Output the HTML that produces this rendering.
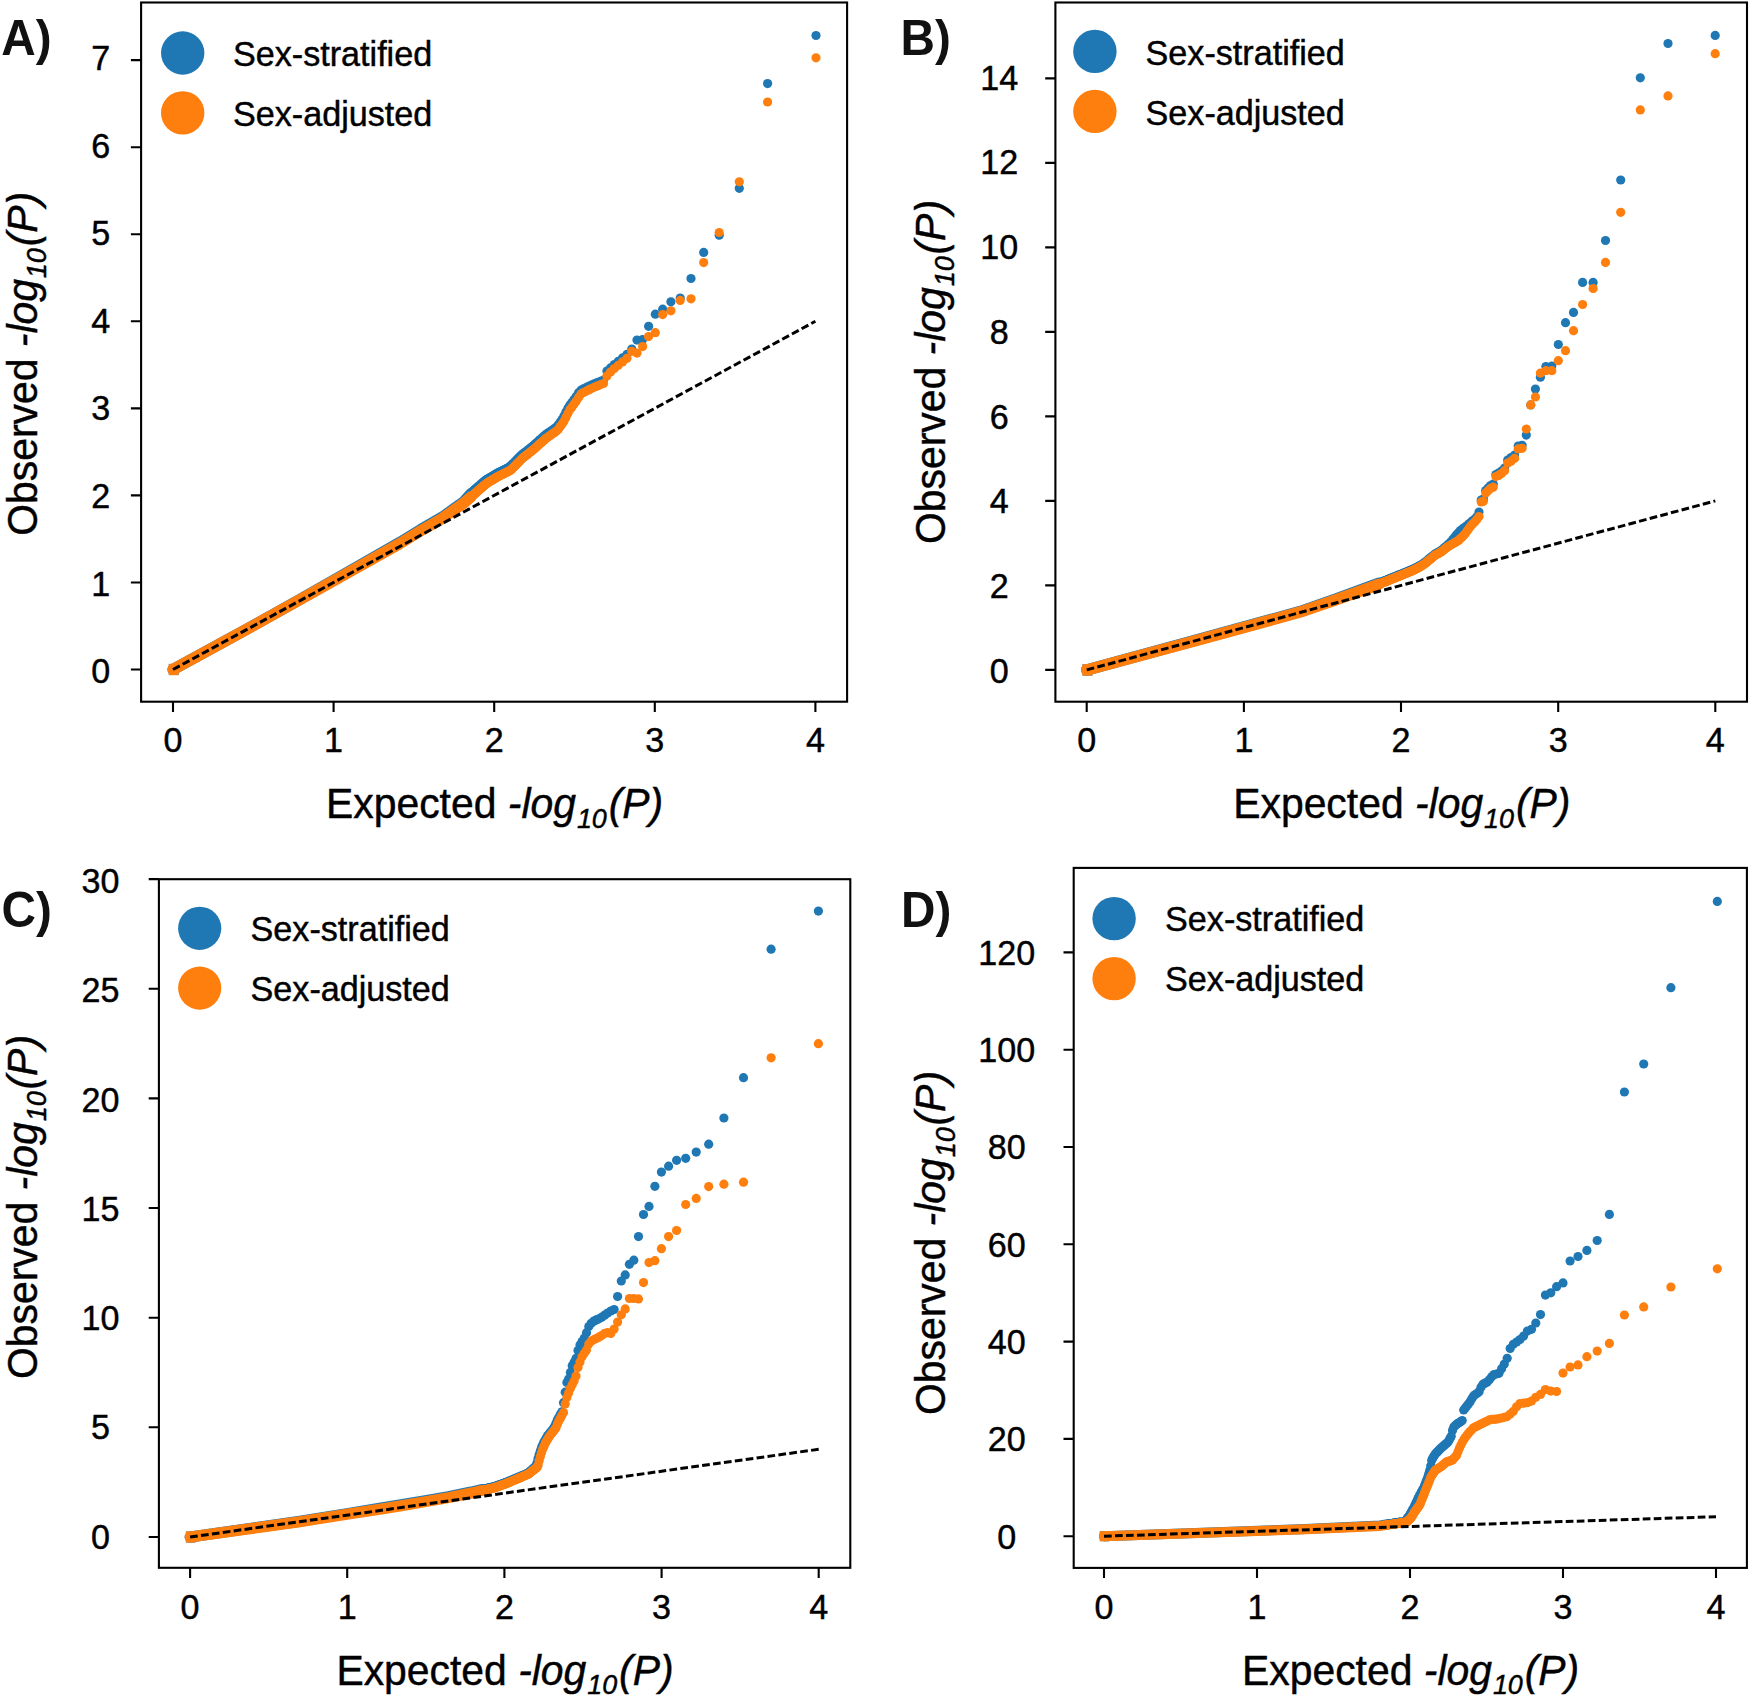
<!DOCTYPE html>
<html lang="en"><head><meta charset="utf-8"><title>QQ plots</title>
<style>html,body{margin:0;padding:0;background:#fff}svg{display:block}text{font-family:"Liberation Sans",sans-serif;fill:#000;stroke:#000;stroke-width:0.45px}.pl{stroke-width:0;fill:#111}.tk{font-size:34.8px}.lg{font-size:34.7px}.ax{font-size:43.0px}.pl{font-size:50px;font-weight:bold}.it{font-style:italic}.sub{font-size:28.3px;font-style:italic}</style></head><body>
<svg width="1750" height="1698" viewBox="0 0 1750 1698">
<rect width="1750" height="1698" fill="#fff"/>
<g>
<path d="M471.1 493.5 L463.3 502.2 L459.7 504.6 L442.1 517.2 L420.9 529.4 L399.7 542.4 L350 570.9 L300 599.3 L250 627.3 L173 669.5" fill="none" stroke="#1f77b4" stroke-width="11.2" stroke-linejoin="round" stroke-linecap="round"/>
<rect x="168.8" y="663.9" width="9.8" height="11.2" fill="#1f77b4"/>
<g fill="#1f77b4"><circle cx="816" cy="35.5" r="4.6"/><circle cx="767.6" cy="83.6" r="4.6"/><circle cx="739.3" cy="188.3" r="4.6"/><circle cx="719.2" cy="235.2" r="4.6"/><circle cx="703.7" cy="252.4" r="4.6"/><circle cx="691" cy="278.5" r="4.6"/><circle cx="680.2" cy="298.1" r="4.6"/><circle cx="670.9" cy="301.8" r="4.6"/><circle cx="662.7" cy="309.2" r="4.6"/><circle cx="655.3" cy="314.2" r="4.6"/><circle cx="648.6" cy="326.3" r="4.6"/><circle cx="642.6" cy="339.5" r="4.6"/><circle cx="637" cy="340.1" r="4.6"/><circle cx="631.8" cy="349" r="4.6"/><circle cx="627" cy="354.3" r="4.6"/><circle cx="622.5" cy="357.9" r="4.6"/><circle cx="618.3" cy="361.3" r="4.6"/><circle cx="614.3" cy="364.6" r="4.6"/><circle cx="610.5" cy="367.9" r="4.6"/><circle cx="606.9" cy="371.1" r="4.6"/><circle cx="603.5" cy="380.1" r="4.6"/><circle cx="600.3" cy="381.4" r="4.6"/><circle cx="597.2" cy="382.6" r="4.6"/><circle cx="594.2" cy="383.8" r="4.6"/><circle cx="591.4" cy="385" r="4.6"/><circle cx="588.6" cy="386.3" r="4.6"/><circle cx="586" cy="387.7" r="4.6"/><circle cx="583.4" cy="388.9" r="4.6"/><circle cx="581" cy="390.2" r="4.6"/><circle cx="578.6" cy="392.8" r="4.6"/><circle cx="576.3" cy="396.3" r="4.6"/><circle cx="574.1" cy="399.4" r="4.6"/><circle cx="572" cy="402.3" r="4.6"/><circle cx="569.9" cy="405.1" r="4.6"/><circle cx="567.9" cy="408.2" r="4.6"/><circle cx="565.9" cy="412.1" r="4.6"/><circle cx="564" cy="415.9" r="4.6"/><circle cx="562.1" cy="419.4" r="4.6"/><circle cx="560.3" cy="421.9" r="4.6"/><circle cx="558.5" cy="424.4" r="4.6"/><circle cx="556.8" cy="426.8" r="4.6"/><circle cx="555.1" cy="428.1" r="4.6"/><circle cx="553.5" cy="429.3" r="4.6"/><circle cx="551.9" cy="430.4" r="4.6"/><circle cx="550.3" cy="431.5" r="4.6"/><circle cx="548.8" cy="432.6" r="4.6"/><circle cx="547.3" cy="433.6" r="4.6"/><circle cx="545.8" cy="434.7" r="4.6"/><circle cx="544.4" cy="435.8" r="4.6"/><circle cx="543" cy="437" r="4.6"/><circle cx="541.6" cy="438.3" r="4.6"/><circle cx="540.2" cy="439.5" r="4.6"/><circle cx="538.9" cy="440.7" r="4.6"/><circle cx="537.6" cy="441.9" r="4.6"/><circle cx="536.3" cy="443" r="4.6"/><circle cx="535.1" cy="444.1" r="4.6"/><circle cx="533.8" cy="445.3" r="4.6"/><circle cx="532.6" cy="446.3" r="4.6"/><circle cx="531.4" cy="447.3" r="4.6"/><circle cx="530.3" cy="448.2" r="4.6"/><circle cx="529.1" cy="449.1" r="4.6"/><circle cx="528" cy="450" r="4.6"/><circle cx="526.8" cy="450.9" r="4.6"/><circle cx="525.7" cy="451.8" r="4.6"/><circle cx="524.7" cy="452.6" r="4.6"/><circle cx="523.6" cy="453.5" r="4.6"/><circle cx="522.5" cy="454.3" r="4.6"/><circle cx="521.5" cy="455.1" r="4.6"/><circle cx="520.5" cy="456.1" r="4.6"/><circle cx="519.5" cy="457.1" r="4.6"/><circle cx="518.5" cy="458.1" r="4.6"/><circle cx="517.5" cy="459.1" r="4.6"/><circle cx="516.6" cy="460.1" r="4.6"/><circle cx="515.6" cy="461" r="4.6"/><circle cx="514.7" cy="462" r="4.6"/><circle cx="513.8" cy="462.9" r="4.6"/><circle cx="512.8" cy="463.8" r="4.6"/><circle cx="511.9" cy="464.7" r="4.6"/><circle cx="511.1" cy="465.6" r="4.6"/><circle cx="510.2" cy="466.5" r="4.6"/><circle cx="509.3" cy="467.3" r="4.6"/><circle cx="508.5" cy="467.7" r="4.6"/><circle cx="507.6" cy="468.1" r="4.6"/><circle cx="506.8" cy="468.6" r="4.6"/><circle cx="505.9" cy="469" r="4.6"/><circle cx="505.1" cy="469.4" r="4.6"/><circle cx="504.3" cy="469.8" r="4.6"/><circle cx="503.5" cy="470.2" r="4.6"/><circle cx="502.7" cy="470.6" r="4.6"/><circle cx="502" cy="471" r="4.6"/><circle cx="501.2" cy="471.4" r="4.6"/><circle cx="500.4" cy="471.7" r="4.6"/><circle cx="499.7" cy="472.1" r="4.6"/><circle cx="498.9" cy="472.5" r="4.6"/><circle cx="498.2" cy="472.9" r="4.6"/><circle cx="497.4" cy="473.2" r="4.6"/><circle cx="496.7" cy="473.7" r="4.6"/><circle cx="496" cy="474.1" r="4.6"/><circle cx="495.3" cy="474.5" r="4.6"/><circle cx="494.6" cy="474.9" r="4.6"/><circle cx="493.9" cy="475.4" r="4.6"/><circle cx="493.2" cy="475.8" r="4.6"/><circle cx="492.5" cy="476.2" r="4.6"/><circle cx="491.9" cy="476.6" r="4.6"/><circle cx="491.2" cy="477" r="4.6"/><circle cx="490.5" cy="477.4" r="4.6"/><circle cx="489.9" cy="477.7" r="4.6"/><circle cx="489.2" cy="478.1" r="4.6"/><circle cx="488.6" cy="478.5" r="4.6"/><circle cx="487.9" cy="478.9" r="4.6"/><circle cx="487.3" cy="479.3" r="4.6"/><circle cx="486.7" cy="479.6" r="4.6"/><circle cx="486.1" cy="480" r="4.6"/><circle cx="485.5" cy="480.5" r="4.6"/><circle cx="484.8" cy="481" r="4.6"/><circle cx="484.2" cy="481.5" r="4.6"/><circle cx="483.6" cy="482" r="4.6"/><circle cx="483" cy="482.6" r="4.6"/><circle cx="482.5" cy="483.1" r="4.6"/><circle cx="481.9" cy="483.6" r="4.6"/><circle cx="481.3" cy="484.1" r="4.6"/><circle cx="480.7" cy="484.6" r="4.6"/><circle cx="480.2" cy="485" r="4.6"/><circle cx="479.6" cy="485.5" r="4.6"/><circle cx="479" cy="486" r="4.6"/><circle cx="478.5" cy="486.5" r="4.6"/><circle cx="477.9" cy="487" r="4.6"/><circle cx="477.4" cy="487.4" r="4.6"/><circle cx="476.8" cy="487.9" r="4.6"/><circle cx="476.3" cy="488.4" r="4.6"/><circle cx="475.8" cy="488.8" r="4.6"/><circle cx="475.2" cy="489.3" r="4.6"/><circle cx="474.7" cy="489.7" r="4.6"/><circle cx="474.2" cy="490.2" r="4.6"/><circle cx="473.7" cy="490.7" r="4.6"/><circle cx="473.1" cy="491.2" r="4.6"/><circle cx="472.6" cy="491.8" r="4.6"/><circle cx="472.1" cy="492.4" r="4.6"/><circle cx="471.6" cy="492.9" r="4.6"/><circle cx="471.1" cy="493.5" r="4.6"/></g>
<path d="M471.1 496.8 L463.6 503.3 L460 505.7 L442.4 518.3 L421.2 530.5 L400 543.5 L350 571.6 L300 599.7 L250 627.5 L173 669.5" fill="none" stroke="#ff7f0e" stroke-width="11.2" stroke-linejoin="round" stroke-linecap="round"/>
<rect x="168.8" y="663.9" width="9.8" height="11.2" fill="#ff7f0e"/>
<g fill="#ff7f0e"><circle cx="816" cy="57.8" r="4.6"/><circle cx="767.6" cy="102" r="4.6"/><circle cx="739.3" cy="181.8" r="4.6"/><circle cx="719.2" cy="232.5" r="4.6"/><circle cx="703.7" cy="262.6" r="4.6"/><circle cx="691" cy="298.8" r="4.6"/><circle cx="680.2" cy="300.4" r="4.6"/><circle cx="670.9" cy="310.8" r="4.6"/><circle cx="662.7" cy="314.6" r="4.6"/><circle cx="655.3" cy="332.7" r="4.6"/><circle cx="648.6" cy="336.6" r="4.6"/><circle cx="642.6" cy="346.6" r="4.6"/><circle cx="637" cy="353.1" r="4.6"/><circle cx="631.8" cy="351.3" r="4.6"/><circle cx="627" cy="358.3" r="4.6"/><circle cx="622.5" cy="361.9" r="4.6"/><circle cx="618.3" cy="365.3" r="4.6"/><circle cx="614.3" cy="368.6" r="4.6"/><circle cx="610.5" cy="372" r="4.6"/><circle cx="606.9" cy="376.1" r="4.6"/><circle cx="603.5" cy="383.5" r="4.6"/><circle cx="600.3" cy="384.8" r="4.6"/><circle cx="597.2" cy="386.1" r="4.6"/><circle cx="594.2" cy="387.3" r="4.6"/><circle cx="591.4" cy="388.6" r="4.6"/><circle cx="588.6" cy="389.9" r="4.6"/><circle cx="586" cy="391.3" r="4.6"/><circle cx="583.4" cy="392.5" r="4.6"/><circle cx="581" cy="394.1" r="4.6"/><circle cx="578.6" cy="397.6" r="4.6"/><circle cx="576.3" cy="401.1" r="4.6"/><circle cx="574.1" cy="404" r="4.6"/><circle cx="572" cy="406.9" r="4.6"/><circle cx="569.9" cy="409.7" r="4.6"/><circle cx="567.9" cy="413.6" r="4.6"/><circle cx="565.9" cy="417.5" r="4.6"/><circle cx="564" cy="421.3" r="4.6"/><circle cx="562.1" cy="424.1" r="4.6"/><circle cx="560.3" cy="426.6" r="4.6"/><circle cx="558.5" cy="429.1" r="4.6"/><circle cx="556.8" cy="430.8" r="4.6"/><circle cx="555.1" cy="432" r="4.6"/><circle cx="553.5" cy="433.1" r="4.6"/><circle cx="551.9" cy="434.3" r="4.6"/><circle cx="550.3" cy="435.4" r="4.6"/><circle cx="548.8" cy="436.4" r="4.6"/><circle cx="547.3" cy="437.5" r="4.6"/><circle cx="545.8" cy="438.6" r="4.6"/><circle cx="544.4" cy="439.9" r="4.6"/><circle cx="543" cy="441.1" r="4.6"/><circle cx="541.6" cy="442.4" r="4.6"/><circle cx="540.2" cy="443.6" r="4.6"/><circle cx="538.9" cy="444.8" r="4.6"/><circle cx="537.6" cy="445.9" r="4.6"/><circle cx="536.3" cy="447.1" r="4.6"/><circle cx="535.1" cy="448.2" r="4.6"/><circle cx="533.8" cy="449.3" r="4.6"/><circle cx="532.6" cy="450.3" r="4.6"/><circle cx="531.4" cy="451.2" r="4.6"/><circle cx="530.3" cy="452.1" r="4.6"/><circle cx="529.1" cy="453.1" r="4.6"/><circle cx="528" cy="454" r="4.6"/><circle cx="526.8" cy="454.9" r="4.6"/><circle cx="525.7" cy="455.7" r="4.6"/><circle cx="524.7" cy="456.6" r="4.6"/><circle cx="523.6" cy="457.4" r="4.6"/><circle cx="522.5" cy="458.3" r="4.6"/><circle cx="521.5" cy="459.3" r="4.6"/><circle cx="520.5" cy="460.3" r="4.6"/><circle cx="519.5" cy="461.3" r="4.6"/><circle cx="518.5" cy="462.3" r="4.6"/><circle cx="517.5" cy="463.3" r="4.6"/><circle cx="516.6" cy="464.3" r="4.6"/><circle cx="515.6" cy="465.2" r="4.6"/><circle cx="514.7" cy="466.2" r="4.6"/><circle cx="513.8" cy="467.1" r="4.6"/><circle cx="512.8" cy="468" r="4.6"/><circle cx="511.9" cy="468.9" r="4.6"/><circle cx="511.1" cy="469.8" r="4.6"/><circle cx="510.2" cy="470.5" r="4.6"/><circle cx="509.3" cy="470.9" r="4.6"/><circle cx="508.5" cy="471.3" r="4.6"/><circle cx="507.6" cy="471.7" r="4.6"/><circle cx="506.8" cy="472.2" r="4.6"/><circle cx="505.9" cy="472.6" r="4.6"/><circle cx="505.1" cy="473" r="4.6"/><circle cx="504.3" cy="473.4" r="4.6"/><circle cx="503.5" cy="473.8" r="4.6"/><circle cx="502.7" cy="474.2" r="4.6"/><circle cx="502" cy="474.6" r="4.6"/><circle cx="501.2" cy="475" r="4.6"/><circle cx="500.4" cy="475.3" r="4.6"/><circle cx="499.7" cy="475.7" r="4.6"/><circle cx="498.9" cy="476.1" r="4.6"/><circle cx="498.2" cy="476.5" r="4.6"/><circle cx="497.4" cy="477" r="4.6"/><circle cx="496.7" cy="477.4" r="4.6"/><circle cx="496" cy="477.8" r="4.6"/><circle cx="495.3" cy="478.2" r="4.6"/><circle cx="494.6" cy="478.7" r="4.6"/><circle cx="493.9" cy="479.1" r="4.6"/><circle cx="493.2" cy="479.5" r="4.6"/><circle cx="492.5" cy="479.9" r="4.6"/><circle cx="491.9" cy="480.3" r="4.6"/><circle cx="491.2" cy="480.7" r="4.6"/><circle cx="490.5" cy="481.1" r="4.6"/><circle cx="489.9" cy="481.5" r="4.6"/><circle cx="489.2" cy="481.8" r="4.6"/><circle cx="488.6" cy="482.2" r="4.6"/><circle cx="487.9" cy="482.6" r="4.6"/><circle cx="487.3" cy="483" r="4.6"/><circle cx="486.7" cy="483.5" r="4.6"/><circle cx="486.1" cy="484" r="4.6"/><circle cx="485.5" cy="484.5" r="4.6"/><circle cx="484.8" cy="485" r="4.6"/><circle cx="484.2" cy="485.6" r="4.6"/><circle cx="483.6" cy="486.1" r="4.6"/><circle cx="483" cy="486.6" r="4.6"/><circle cx="482.5" cy="487.1" r="4.6"/><circle cx="481.9" cy="487.6" r="4.6"/><circle cx="481.3" cy="488.1" r="4.6"/><circle cx="480.7" cy="488.6" r="4.6"/><circle cx="480.2" cy="489.1" r="4.6"/><circle cx="479.6" cy="489.6" r="4.6"/><circle cx="479" cy="490" r="4.6"/><circle cx="478.5" cy="490.5" r="4.6"/><circle cx="477.9" cy="491" r="4.6"/><circle cx="477.4" cy="491.5" r="4.6"/><circle cx="476.8" cy="491.9" r="4.6"/><circle cx="476.3" cy="492.4" r="4.6"/><circle cx="475.8" cy="492.9" r="4.6"/><circle cx="475.2" cy="493.3" r="4.6"/><circle cx="474.7" cy="493.8" r="4.6"/><circle cx="474.2" cy="494.2" r="4.6"/><circle cx="473.7" cy="494.7" r="4.6"/><circle cx="473.1" cy="495.1" r="4.6"/><circle cx="472.6" cy="495.5" r="4.6"/><circle cx="472.1" cy="496" r="4.6"/><circle cx="471.6" cy="496.4" r="4.6"/><circle cx="471.1" cy="496.8" r="4.6"/></g>
<line x1="173" y1="669.5" x2="815.4" y2="321.3" stroke="#000" stroke-width="3.0" stroke-dasharray="7.7 3.3"/>
<rect x="141.1" y="2.5" width="706" height="699.2" fill="none" stroke="#000" stroke-width="2.1"/>
<path d="M173 701.7 v10.2 M333.6 701.7 v10.2 M494.2 701.7 v10.2 M654.8 701.7 v10.2 M815.4 701.7 v10.2 M141.1 669.5 h-10.2 M141.1 582.5 h-10.2 M141.1 495.4 h-10.2 M141.1 408.4 h-10.2 M141.1 321.3 h-10.2 M141.1 234.2 h-10.2 M141.1 147.2 h-10.2 M141.1 60.1 h-10.2" stroke="#000" stroke-width="2.1" fill="none"/>
<text class="tk" transform="translate(173 751.6) scale(0.98 1)" text-anchor="middle">0</text>
<text class="tk" transform="translate(333.6 751.6) scale(0.98 1)" text-anchor="middle">1</text>
<text class="tk" transform="translate(494.2 751.6) scale(0.98 1)" text-anchor="middle">2</text>
<text class="tk" transform="translate(654.8 751.6) scale(0.98 1)" text-anchor="middle">3</text>
<text class="tk" transform="translate(815.4 751.6) scale(0.98 1)" text-anchor="middle">4</text>
<text class="tk" transform="translate(100.8 683) scale(0.98 1)" text-anchor="middle">0</text>
<text class="tk" transform="translate(100.8 595.5) scale(0.98 1)" text-anchor="middle">1</text>
<text class="tk" transform="translate(100.8 508) scale(0.98 1)" text-anchor="middle">2</text>
<text class="tk" transform="translate(100.8 420.4) scale(0.98 1)" text-anchor="middle">3</text>
<text class="tk" transform="translate(100.8 332.9) scale(0.98 1)" text-anchor="middle">4</text>
<text class="tk" transform="translate(100.8 245.4) scale(0.98 1)" text-anchor="middle">5</text>
<text class="tk" transform="translate(100.8 157.9) scale(0.98 1)" text-anchor="middle">6</text>
<text class="tk" transform="translate(100.8 70.3) scale(0.98 1)" text-anchor="middle">7</text>
<circle cx="182.7" cy="53" r="21.7" fill="#1f77b4"/>
<circle cx="182.7" cy="112.9" r="21.7" fill="#ff7f0e"/>
<text class="lg" transform="translate(233 66.3) scale(0.984 1)">Sex-stratified</text>
<text class="lg" transform="translate(233 125.5) scale(0.984 1)">Sex-adjusted</text>
<text class="pl" transform="translate(1.2 54.9) scale(0.955 1)">A)</text>
<text class="ax" transform="translate(326 818.4) scale(0.951 1)">Expected <tspan class="it">-log</tspan><tspan class="sub" dy="9.2" dx="1.0">10</tspan><tspan class="it" dy="-9.2" dx="2.0">(P)</tspan></text>
<text class="ax" transform="translate(36.7 535.8) rotate(-90) scale(0.951 1)">Observed <tspan class="it">-log</tspan><tspan class="sub" dy="9.2" dx="1.0">10</tspan><tspan class="it" dy="-9.2" dx="2.0">(P)</tspan></text>
</g>
<g>
<path d="M1378.5 583.2 L1368.3 587.1 L1334.3 599.6 L1300 611.6 L1200 639 L1086.7 669.9" fill="none" stroke="#1f77b4" stroke-width="11.4" stroke-linejoin="round" stroke-linecap="round"/>
<rect x="1082.5" y="664.2" width="9.9" height="11.4" fill="#1f77b4"/>
<g fill="#1f77b4"><circle cx="1715.2" cy="35.4" r="4.6"/><circle cx="1668" cy="43.5" r="4.6"/><circle cx="1640.3" cy="77.8" r="4.6"/><circle cx="1620.7" cy="180" r="4.6"/><circle cx="1605.5" cy="240.5" r="4.6"/><circle cx="1593.1" cy="282.4" r="4.6"/><circle cx="1582.6" cy="282.4" r="4.6"/><circle cx="1573.5" cy="312.4" r="4.6"/><circle cx="1565.5" cy="322.7" r="4.6"/><circle cx="1558.3" cy="344.5" r="4.6"/><circle cx="1551.8" cy="366" r="4.6"/><circle cx="1545.9" cy="366.6" r="4.6"/><circle cx="1540.4" cy="377.2" r="4.6"/><circle cx="1535.4" cy="389" r="4.6"/><circle cx="1530.7" cy="404.9" r="4.6"/><circle cx="1526.3" cy="435.1" r="4.6"/><circle cx="1522.1" cy="445.3" r="4.6"/><circle cx="1518.2" cy="446" r="4.6"/><circle cx="1514.6" cy="455" r="4.6"/><circle cx="1511.1" cy="457.5" r="4.6"/><circle cx="1507.7" cy="460" r="4.6"/><circle cx="1504.6" cy="468" r="4.6"/><circle cx="1501.5" cy="471" r="4.6"/><circle cx="1498.6" cy="473" r="4.6"/><circle cx="1495.9" cy="474.5" r="4.6"/><circle cx="1493.2" cy="484" r="4.6"/><circle cx="1490.6" cy="485.5" r="4.6"/><circle cx="1488.1" cy="488" r="4.6"/><circle cx="1485.7" cy="490.5" r="4.6"/><circle cx="1483.4" cy="499" r="4.6"/><circle cx="1481.2" cy="500" r="4.6"/><circle cx="1479" cy="512" r="4.6"/><circle cx="1476.9" cy="516.7" r="4.6"/><circle cx="1474.9" cy="518.9" r="4.6"/><circle cx="1472.9" cy="520.6" r="4.6"/><circle cx="1471" cy="522.2" r="4.6"/><circle cx="1469.1" cy="523.8" r="4.6"/><circle cx="1467.3" cy="525.4" r="4.6"/><circle cx="1465.6" cy="526.8" r="4.6"/><circle cx="1463.8" cy="528" r="4.6"/><circle cx="1462.2" cy="529.2" r="4.6"/><circle cx="1460.5" cy="530.5" r="4.6"/><circle cx="1458.9" cy="532.3" r="4.6"/><circle cx="1457.3" cy="534" r="4.6"/><circle cx="1455.8" cy="535.7" r="4.6"/><circle cx="1454.3" cy="537.7" r="4.6"/><circle cx="1452.8" cy="539.6" r="4.6"/><circle cx="1451.4" cy="541.5" r="4.6"/><circle cx="1450" cy="542.9" r="4.6"/><circle cx="1448.6" cy="544.1" r="4.6"/><circle cx="1447.3" cy="545.3" r="4.6"/><circle cx="1446" cy="546.5" r="4.6"/><circle cx="1444.7" cy="547.6" r="4.6"/><circle cx="1443.4" cy="548.7" r="4.6"/><circle cx="1442.1" cy="549.8" r="4.6"/><circle cx="1440.9" cy="550.9" r="4.6"/><circle cx="1439.7" cy="551.5" r="4.6"/><circle cx="1438.5" cy="552.2" r="4.6"/><circle cx="1437.4" cy="552.8" r="4.6"/><circle cx="1436.2" cy="553.4" r="4.6"/><circle cx="1435.1" cy="554.1" r="4.6"/><circle cx="1434" cy="555" r="4.6"/><circle cx="1432.9" cy="555.9" r="4.6"/><circle cx="1431.8" cy="556.7" r="4.6"/><circle cx="1430.8" cy="557.6" r="4.6"/><circle cx="1429.7" cy="558.5" r="4.6"/><circle cx="1428.7" cy="559.3" r="4.6"/><circle cx="1427.7" cy="560.2" r="4.6"/><circle cx="1426.7" cy="561" r="4.6"/><circle cx="1425.7" cy="561.8" r="4.6"/><circle cx="1424.7" cy="562.5" r="4.6"/><circle cx="1423.8" cy="563.3" r="4.6"/><circle cx="1422.8" cy="564" r="4.6"/><circle cx="1421.9" cy="564.5" r="4.6"/><circle cx="1421" cy="565" r="4.6"/><circle cx="1420.1" cy="565.5" r="4.6"/><circle cx="1419.2" cy="566.1" r="4.6"/><circle cx="1418.3" cy="566.6" r="4.6"/><circle cx="1417.5" cy="567.1" r="4.6"/><circle cx="1416.6" cy="567.5" r="4.6"/><circle cx="1415.8" cy="567.9" r="4.6"/><circle cx="1414.9" cy="568.3" r="4.6"/><circle cx="1414.1" cy="568.7" r="4.6"/><circle cx="1413.3" cy="569.1" r="4.6"/><circle cx="1412.5" cy="569.5" r="4.6"/><circle cx="1411.7" cy="569.9" r="4.6"/><circle cx="1410.9" cy="570.2" r="4.6"/><circle cx="1410.1" cy="570.6" r="4.6"/><circle cx="1409.3" cy="570.9" r="4.6"/><circle cx="1408.6" cy="571.2" r="4.6"/><circle cx="1407.8" cy="571.5" r="4.6"/><circle cx="1407.1" cy="571.8" r="4.6"/><circle cx="1406.3" cy="572.1" r="4.6"/><circle cx="1405.6" cy="572.4" r="4.6"/><circle cx="1404.9" cy="572.7" r="4.6"/><circle cx="1404.2" cy="573" r="4.6"/><circle cx="1403.5" cy="573.2" r="4.6"/><circle cx="1402.8" cy="573.5" r="4.6"/><circle cx="1402.1" cy="573.8" r="4.6"/><circle cx="1401.4" cy="574.1" r="4.6"/><circle cx="1400.7" cy="574.4" r="4.6"/><circle cx="1400.1" cy="574.6" r="4.6"/><circle cx="1399.4" cy="574.9" r="4.6"/><circle cx="1398.7" cy="575.2" r="4.6"/><circle cx="1398.1" cy="575.4" r="4.6"/><circle cx="1397.4" cy="575.7" r="4.6"/><circle cx="1396.8" cy="576" r="4.6"/><circle cx="1396.2" cy="576.2" r="4.6"/><circle cx="1395.5" cy="576.5" r="4.6"/><circle cx="1394.9" cy="576.7" r="4.6"/><circle cx="1394.3" cy="577" r="4.6"/><circle cx="1393.7" cy="577.2" r="4.6"/><circle cx="1393.1" cy="577.5" r="4.6"/><circle cx="1392.5" cy="577.7" r="4.6"/><circle cx="1391.9" cy="578" r="4.6"/><circle cx="1391.3" cy="578.2" r="4.6"/><circle cx="1390.7" cy="578.4" r="4.6"/><circle cx="1390.1" cy="578.7" r="4.6"/><circle cx="1389.5" cy="578.9" r="4.6"/><circle cx="1389" cy="579.1" r="4.6"/><circle cx="1388.4" cy="579.4" r="4.6"/><circle cx="1387.9" cy="579.6" r="4.6"/><circle cx="1387.3" cy="579.8" r="4.6"/><circle cx="1386.7" cy="580.1" r="4.6"/><circle cx="1386.2" cy="580.3" r="4.6"/><circle cx="1385.7" cy="580.5" r="4.6"/><circle cx="1385.1" cy="580.7" r="4.6"/><circle cx="1384.6" cy="580.9" r="4.6"/><circle cx="1384" cy="581.1" r="4.6"/><circle cx="1383.5" cy="581.3" r="4.6"/><circle cx="1383" cy="581.5" r="4.6"/><circle cx="1382.5" cy="581.7" r="4.6"/><circle cx="1382" cy="581.9" r="4.6"/><circle cx="1381.5" cy="582.1" r="4.6"/><circle cx="1381" cy="582.3" r="4.6"/><circle cx="1380.4" cy="582.5" r="4.6"/><circle cx="1379.9" cy="582.7" r="4.6"/><circle cx="1379.5" cy="582.9" r="4.6"/><circle cx="1379" cy="583.1" r="4.6"/><circle cx="1378.5" cy="583.2" r="4.6"/></g>
<path d="M1378.5 584.4 L1368.6 588.1 L1334.3 600.3 L1300 612.1 L1200 639.4 L1086.7 669.9" fill="none" stroke="#ff7f0e" stroke-width="11.4" stroke-linejoin="round" stroke-linecap="round"/>
<rect x="1082.5" y="664.2" width="9.9" height="11.4" fill="#ff7f0e"/>
<g fill="#ff7f0e"><circle cx="1715.2" cy="53.7" r="4.6"/><circle cx="1668" cy="95.9" r="4.6"/><circle cx="1640.3" cy="109.9" r="4.6"/><circle cx="1620.7" cy="212.3" r="4.6"/><circle cx="1605.5" cy="262.4" r="4.6"/><circle cx="1593.1" cy="288.5" r="4.6"/><circle cx="1582.6" cy="304.5" r="4.6"/><circle cx="1573.5" cy="330.7" r="4.6"/><circle cx="1565.5" cy="350.7" r="4.6"/><circle cx="1558.3" cy="360.7" r="4.6"/><circle cx="1551.8" cy="370.7" r="4.6"/><circle cx="1545.9" cy="370.7" r="4.6"/><circle cx="1540.4" cy="373.1" r="4.6"/><circle cx="1535.4" cy="397" r="4.6"/><circle cx="1530.7" cy="404.9" r="4.6"/><circle cx="1526.3" cy="429" r="4.6"/><circle cx="1522.1" cy="448.3" r="4.6"/><circle cx="1518.2" cy="448.9" r="4.6"/><circle cx="1514.6" cy="458.3" r="4.6"/><circle cx="1511.1" cy="461.2" r="4.6"/><circle cx="1507.7" cy="463" r="4.6"/><circle cx="1504.6" cy="470.7" r="4.6"/><circle cx="1501.5" cy="473.6" r="4.6"/><circle cx="1498.6" cy="475.4" r="4.6"/><circle cx="1495.9" cy="476.6" r="4.6"/><circle cx="1493.2" cy="487.2" r="4.6"/><circle cx="1490.6" cy="488.3" r="4.6"/><circle cx="1488.1" cy="490.7" r="4.6"/><circle cx="1485.7" cy="493" r="4.6"/><circle cx="1483.4" cy="501.3" r="4.6"/><circle cx="1481.2" cy="502" r="4.6"/><circle cx="1479" cy="516.6" r="4.6"/><circle cx="1476.9" cy="519.6" r="4.6"/><circle cx="1474.9" cy="521.8" r="4.6"/><circle cx="1472.9" cy="523.8" r="4.6"/><circle cx="1471" cy="525.7" r="4.6"/><circle cx="1469.1" cy="528.2" r="4.6"/><circle cx="1467.3" cy="530.7" r="4.6"/><circle cx="1465.6" cy="533.2" r="4.6"/><circle cx="1463.8" cy="535.3" r="4.6"/><circle cx="1462.2" cy="536.9" r="4.6"/><circle cx="1460.5" cy="538.6" r="4.6"/><circle cx="1458.9" cy="540.2" r="4.6"/><circle cx="1457.3" cy="541.1" r="4.6"/><circle cx="1455.8" cy="542" r="4.6"/><circle cx="1454.3" cy="542.9" r="4.6"/><circle cx="1452.8" cy="543.8" r="4.6"/><circle cx="1451.4" cy="544.6" r="4.6"/><circle cx="1450" cy="545.5" r="4.6"/><circle cx="1448.6" cy="546.3" r="4.6"/><circle cx="1447.3" cy="547.1" r="4.6"/><circle cx="1446" cy="548.1" r="4.6"/><circle cx="1444.7" cy="549.1" r="4.6"/><circle cx="1443.4" cy="550.2" r="4.6"/><circle cx="1442.1" cy="551.2" r="4.6"/><circle cx="1440.9" cy="552.1" r="4.6"/><circle cx="1439.7" cy="552.7" r="4.6"/><circle cx="1438.5" cy="553.4" r="4.6"/><circle cx="1437.4" cy="554" r="4.6"/><circle cx="1436.2" cy="554.6" r="4.6"/><circle cx="1435.1" cy="555.3" r="4.6"/><circle cx="1434" cy="556.2" r="4.6"/><circle cx="1432.9" cy="557.1" r="4.6"/><circle cx="1431.8" cy="558" r="4.6"/><circle cx="1430.8" cy="558.9" r="4.6"/><circle cx="1429.7" cy="559.7" r="4.6"/><circle cx="1428.7" cy="560.6" r="4.6"/><circle cx="1427.7" cy="561.4" r="4.6"/><circle cx="1426.7" cy="562.2" r="4.6"/><circle cx="1425.7" cy="563" r="4.6"/><circle cx="1424.7" cy="563.8" r="4.6"/><circle cx="1423.8" cy="564.6" r="4.6"/><circle cx="1422.8" cy="565.1" r="4.6"/><circle cx="1421.9" cy="565.7" r="4.6"/><circle cx="1421" cy="566.2" r="4.6"/><circle cx="1420.1" cy="566.7" r="4.6"/><circle cx="1419.2" cy="567.2" r="4.6"/><circle cx="1418.3" cy="567.7" r="4.6"/><circle cx="1417.5" cy="568.2" r="4.6"/><circle cx="1416.6" cy="568.6" r="4.6"/><circle cx="1415.8" cy="569.1" r="4.6"/><circle cx="1414.9" cy="569.5" r="4.6"/><circle cx="1414.1" cy="569.9" r="4.6"/><circle cx="1413.3" cy="570.3" r="4.6"/><circle cx="1412.5" cy="570.7" r="4.6"/><circle cx="1411.7" cy="571" r="4.6"/><circle cx="1410.9" cy="571.4" r="4.6"/><circle cx="1410.1" cy="571.7" r="4.6"/><circle cx="1409.3" cy="572" r="4.6"/><circle cx="1408.6" cy="572.3" r="4.6"/><circle cx="1407.8" cy="572.6" r="4.6"/><circle cx="1407.1" cy="572.9" r="4.6"/><circle cx="1406.3" cy="573.2" r="4.6"/><circle cx="1405.6" cy="573.5" r="4.6"/><circle cx="1404.9" cy="573.8" r="4.6"/><circle cx="1404.2" cy="574.1" r="4.6"/><circle cx="1403.5" cy="574.4" r="4.6"/><circle cx="1402.8" cy="574.7" r="4.6"/><circle cx="1402.1" cy="574.9" r="4.6"/><circle cx="1401.4" cy="575.2" r="4.6"/><circle cx="1400.7" cy="575.5" r="4.6"/><circle cx="1400.1" cy="575.8" r="4.6"/><circle cx="1399.4" cy="576" r="4.6"/><circle cx="1398.7" cy="576.3" r="4.6"/><circle cx="1398.1" cy="576.6" r="4.6"/><circle cx="1397.4" cy="576.8" r="4.6"/><circle cx="1396.8" cy="577.1" r="4.6"/><circle cx="1396.2" cy="577.3" r="4.6"/><circle cx="1395.5" cy="577.6" r="4.6"/><circle cx="1394.9" cy="577.9" r="4.6"/><circle cx="1394.3" cy="578.1" r="4.6"/><circle cx="1393.7" cy="578.4" r="4.6"/><circle cx="1393.1" cy="578.6" r="4.6"/><circle cx="1392.5" cy="578.8" r="4.6"/><circle cx="1391.9" cy="579.1" r="4.6"/><circle cx="1391.3" cy="579.3" r="4.6"/><circle cx="1390.7" cy="579.6" r="4.6"/><circle cx="1390.1" cy="579.8" r="4.6"/><circle cx="1389.5" cy="580" r="4.6"/><circle cx="1389" cy="580.3" r="4.6"/><circle cx="1388.4" cy="580.5" r="4.6"/><circle cx="1387.9" cy="580.7" r="4.6"/><circle cx="1387.3" cy="581" r="4.6"/><circle cx="1386.7" cy="581.2" r="4.6"/><circle cx="1386.2" cy="581.4" r="4.6"/><circle cx="1385.7" cy="581.6" r="4.6"/><circle cx="1385.1" cy="581.8" r="4.6"/><circle cx="1384.6" cy="582" r="4.6"/><circle cx="1384" cy="582.2" r="4.6"/><circle cx="1383.5" cy="582.4" r="4.6"/><circle cx="1383" cy="582.6" r="4.6"/><circle cx="1382.5" cy="582.8" r="4.6"/><circle cx="1382" cy="583" r="4.6"/><circle cx="1381.5" cy="583.2" r="4.6"/><circle cx="1381" cy="583.4" r="4.6"/><circle cx="1380.4" cy="583.6" r="4.6"/><circle cx="1379.9" cy="583.8" r="4.6"/><circle cx="1379.5" cy="584" r="4.6"/><circle cx="1379" cy="584.2" r="4.6"/><circle cx="1378.5" cy="584.4" r="4.6"/></g>
<line x1="1086.7" y1="669.9" x2="1715.3" y2="500.9" stroke="#000" stroke-width="3.0" stroke-dasharray="7.7 3.3"/>
<rect x="1055.4" y="2.5" width="691.6" height="699.2" fill="none" stroke="#000" stroke-width="2.1"/>
<path d="M1086.7 701.7 v10.2 M1243.9 701.7 v10.2 M1401 701.7 v10.2 M1558.2 701.7 v10.2 M1715.3 701.7 v10.2 M1055.4 669.9 h-10.2 M1055.4 585.4 h-10.2 M1055.4 500.9 h-10.2 M1055.4 416.4 h-10.2 M1055.4 331.9 h-10.2 M1055.4 247.4 h-10.2 M1055.4 162.9 h-10.2 M1055.4 78.4 h-10.2" stroke="#000" stroke-width="2.1" fill="none"/>
<text class="tk" transform="translate(1086.7 751.6) scale(0.98 1)" text-anchor="middle">0</text>
<text class="tk" transform="translate(1243.9 751.6) scale(0.98 1)" text-anchor="middle">1</text>
<text class="tk" transform="translate(1401 751.6) scale(0.98 1)" text-anchor="middle">2</text>
<text class="tk" transform="translate(1558.2 751.6) scale(0.98 1)" text-anchor="middle">3</text>
<text class="tk" transform="translate(1715.3 751.6) scale(0.98 1)" text-anchor="middle">4</text>
<text class="tk" transform="translate(999.2 682.6) scale(0.98 1)" text-anchor="middle">0</text>
<text class="tk" transform="translate(999.2 597.9) scale(0.98 1)" text-anchor="middle">2</text>
<text class="tk" transform="translate(999.2 513.2) scale(0.98 1)" text-anchor="middle">4</text>
<text class="tk" transform="translate(999.2 428.5) scale(0.98 1)" text-anchor="middle">6</text>
<text class="tk" transform="translate(999.2 343.8) scale(0.98 1)" text-anchor="middle">8</text>
<text class="tk" transform="translate(999.2 259.1) scale(0.98 1)" text-anchor="middle">10</text>
<text class="tk" transform="translate(999.2 174.4) scale(0.98 1)" text-anchor="middle">12</text>
<text class="tk" transform="translate(999.2 89.7) scale(0.98 1)" text-anchor="middle">14</text>
<circle cx="1094.9" cy="51.4" r="21.7" fill="#1f77b4"/>
<circle cx="1094.9" cy="111.4" r="21.7" fill="#ff7f0e"/>
<text class="lg" transform="translate(1145.6 64.9) scale(0.984 1)">Sex-stratified</text>
<text class="lg" transform="translate(1145.6 124.5) scale(0.984 1)">Sex-adjusted</text>
<text class="pl" transform="translate(900.5 54.9) scale(0.955 1)">B)</text>
<text class="ax" transform="translate(1233.2 818.4) scale(0.951 1)">Expected <tspan class="it">-log</tspan><tspan class="sub" dy="9.2" dx="1.0">10</tspan><tspan class="it" dy="-9.2" dx="2.0">(P)</tspan></text>
<text class="ax" transform="translate(945.2 544) rotate(-90) scale(0.951 1)">Observed <tspan class="it">-log</tspan><tspan class="sub" dy="9.2" dx="1.0">10</tspan><tspan class="it" dy="-9.2" dx="2.0">(P)</tspan></text>
</g>
<g>
<path d="M481.5 1489.6 L471.1 1492 L448.3 1496.6 L425.4 1500.6 L402.6 1504.5 L379.7 1508.3 L350 1513.1 L300 1521.2 L190.1 1537" fill="none" stroke="#1f77b4" stroke-width="11.0" stroke-linejoin="round" stroke-linecap="round"/>
<rect x="185.9" y="1531.5" width="9.7" height="11.0" fill="#1f77b4"/>
<g fill="#1f77b4"><circle cx="818.4" cy="911.1" r="4.6"/><circle cx="771.1" cy="949.2" r="4.6"/><circle cx="743.5" cy="1077.7" r="4.6"/><circle cx="723.9" cy="1118" r="4.6"/><circle cx="708.7" cy="1144.2" r="4.6"/><circle cx="696.2" cy="1152.1" r="4.6"/><circle cx="685.7" cy="1158.3" r="4.6"/><circle cx="676.6" cy="1160.3" r="4.6"/><circle cx="668.6" cy="1166.2" r="4.6"/><circle cx="661.4" cy="1172.1" r="4.6"/><circle cx="654.9" cy="1186.3" r="4.6"/><circle cx="649" cy="1206.4" r="4.6"/><circle cx="643.5" cy="1214.5" r="4.6"/><circle cx="638.5" cy="1236.6" r="4.6"/><circle cx="633.8" cy="1260.2" r="4.6"/><circle cx="629.4" cy="1264.3" r="4.6"/><circle cx="625.2" cy="1274.9" r="4.6"/><circle cx="621.3" cy="1281" r="4.6"/><circle cx="617.6" cy="1296.5" r="4.6"/><circle cx="614.1" cy="1309.5" r="4.6"/><circle cx="610.8" cy="1311" r="4.6"/><circle cx="607.6" cy="1313.1" r="4.6"/><circle cx="604.6" cy="1315.2" r="4.6"/><circle cx="601.7" cy="1317.2" r="4.6"/><circle cx="598.9" cy="1318.8" r="4.6"/><circle cx="596.2" cy="1319.9" r="4.6"/><circle cx="593.7" cy="1321.2" r="4.6"/><circle cx="591.2" cy="1323.3" r="4.6"/><circle cx="588.8" cy="1326.6" r="4.6"/><circle cx="586.5" cy="1332.7" r="4.6"/><circle cx="584.3" cy="1338.1" r="4.6"/><circle cx="582.1" cy="1341.5" r="4.6"/><circle cx="580" cy="1344.9" r="4.6"/><circle cx="578" cy="1350.4" r="4.6"/><circle cx="576" cy="1358.4" r="4.6"/><circle cx="574.1" cy="1362.2" r="4.6"/><circle cx="572.2" cy="1365.8" r="4.6"/><circle cx="570.4" cy="1372.4" r="4.6"/><circle cx="568.6" cy="1379" r="4.6"/><circle cx="566.9" cy="1382.4" r="4.6"/><circle cx="565.2" cy="1392.2" r="4.6"/><circle cx="563.5" cy="1402.7" r="4.6"/><circle cx="561.9" cy="1411.8" r="4.6"/><circle cx="560.4" cy="1414.5" r="4.6"/><circle cx="558.8" cy="1417.2" r="4.6"/><circle cx="557.3" cy="1419.9" r="4.6"/><circle cx="555.9" cy="1423.4" r="4.6"/><circle cx="554.4" cy="1426.7" r="4.6"/><circle cx="553" cy="1429" r="4.6"/><circle cx="551.7" cy="1430.7" r="4.6"/><circle cx="550.3" cy="1432.3" r="4.6"/><circle cx="549" cy="1433.9" r="4.6"/><circle cx="547.7" cy="1435.6" r="4.6"/><circle cx="546.4" cy="1437.8" r="4.6"/><circle cx="545.2" cy="1439.9" r="4.6"/><circle cx="543.9" cy="1442" r="4.6"/><circle cx="542.7" cy="1444.7" r="4.6"/><circle cx="541.5" cy="1447.5" r="4.6"/><circle cx="540.4" cy="1450.7" r="4.6"/><circle cx="539.2" cy="1454.4" r="4.6"/><circle cx="538.1" cy="1458.3" r="4.6"/><circle cx="537" cy="1462.7" r="4.6"/><circle cx="535.9" cy="1466.2" r="4.6"/><circle cx="534.8" cy="1467.1" r="4.6"/><circle cx="533.8" cy="1468.1" r="4.6"/><circle cx="532.7" cy="1469" r="4.6"/><circle cx="531.7" cy="1469.9" r="4.6"/><circle cx="530.7" cy="1470.8" r="4.6"/><circle cx="529.7" cy="1471.7" r="4.6"/><circle cx="528.7" cy="1472.6" r="4.6"/><circle cx="527.8" cy="1473.2" r="4.6"/><circle cx="526.8" cy="1473.7" r="4.6"/><circle cx="525.9" cy="1474.1" r="4.6"/><circle cx="524.9" cy="1474.5" r="4.6"/><circle cx="524" cy="1474.9" r="4.6"/><circle cx="523.1" cy="1475.3" r="4.6"/><circle cx="522.2" cy="1475.6" r="4.6"/><circle cx="521.3" cy="1476" r="4.6"/><circle cx="520.5" cy="1476.4" r="4.6"/><circle cx="519.6" cy="1476.8" r="4.6"/><circle cx="518.8" cy="1477.1" r="4.6"/><circle cx="517.9" cy="1477.5" r="4.6"/><circle cx="517.1" cy="1477.9" r="4.6"/><circle cx="516.3" cy="1478.2" r="4.6"/><circle cx="515.5" cy="1478.6" r="4.6"/><circle cx="514.7" cy="1478.9" r="4.6"/><circle cx="513.9" cy="1479.2" r="4.6"/><circle cx="513.1" cy="1479.6" r="4.6"/><circle cx="512.3" cy="1479.9" r="4.6"/><circle cx="511.6" cy="1480.2" r="4.6"/><circle cx="510.8" cy="1480.5" r="4.6"/><circle cx="510.1" cy="1480.8" r="4.6"/><circle cx="509.3" cy="1481.1" r="4.6"/><circle cx="508.6" cy="1481.4" r="4.6"/><circle cx="507.9" cy="1481.7" r="4.6"/><circle cx="507.2" cy="1482" r="4.6"/><circle cx="506.5" cy="1482.3" r="4.6"/><circle cx="505.8" cy="1482.6" r="4.6"/><circle cx="505.1" cy="1482.9" r="4.6"/><circle cx="504.4" cy="1483.2" r="4.6"/><circle cx="503.7" cy="1483.4" r="4.6"/><circle cx="503" cy="1483.6" r="4.6"/><circle cx="502.4" cy="1483.9" r="4.6"/><circle cx="501.7" cy="1484.1" r="4.6"/><circle cx="501.1" cy="1484.3" r="4.6"/><circle cx="500.4" cy="1484.5" r="4.6"/><circle cx="499.8" cy="1484.8" r="4.6"/><circle cx="499.2" cy="1485" r="4.6"/><circle cx="498.5" cy="1485.2" r="4.6"/><circle cx="497.9" cy="1485.4" r="4.6"/><circle cx="497.3" cy="1485.6" r="4.6"/><circle cx="496.7" cy="1485.9" r="4.6"/><circle cx="496.1" cy="1486.1" r="4.6"/><circle cx="495.5" cy="1486.3" r="4.6"/><circle cx="494.9" cy="1486.5" r="4.6"/><circle cx="494.3" cy="1486.7" r="4.6"/><circle cx="493.7" cy="1486.9" r="4.6"/><circle cx="493.1" cy="1487" r="4.6"/><circle cx="492.5" cy="1487.1" r="4.6"/><circle cx="492" cy="1487.3" r="4.6"/><circle cx="491.4" cy="1487.4" r="4.6"/><circle cx="490.8" cy="1487.5" r="4.6"/><circle cx="490.3" cy="1487.6" r="4.6"/><circle cx="489.7" cy="1487.8" r="4.6"/><circle cx="489.2" cy="1487.9" r="4.6"/><circle cx="488.6" cy="1488" r="4.6"/><circle cx="488.1" cy="1488.1" r="4.6"/><circle cx="487.6" cy="1488.3" r="4.6"/><circle cx="487" cy="1488.4" r="4.6"/><circle cx="486.5" cy="1488.5" r="4.6"/><circle cx="486" cy="1488.6" r="4.6"/><circle cx="485.5" cy="1488.7" r="4.6"/><circle cx="485" cy="1488.9" r="4.6"/><circle cx="484.4" cy="1489" r="4.6"/><circle cx="483.9" cy="1489.1" r="4.6"/><circle cx="483.4" cy="1489.2" r="4.6"/><circle cx="482.9" cy="1489.3" r="4.6"/><circle cx="482.4" cy="1489.4" r="4.6"/><circle cx="481.9" cy="1489.5" r="4.6"/><circle cx="481.5" cy="1489.6" r="4.6"/></g>
<path d="M481.5 1490.7 L471.4 1493 L448.6 1497.6 L425.7 1501.6 L402.9 1505.5 L380 1509.3 L350 1513.7 L300 1521.7 L190.1 1537" fill="none" stroke="#ff7f0e" stroke-width="11.0" stroke-linejoin="round" stroke-linecap="round"/>
<rect x="185.9" y="1531.5" width="9.7" height="11.0" fill="#ff7f0e"/>
<g fill="#ff7f0e"><circle cx="818.4" cy="1043.7" r="4.6"/><circle cx="771.1" cy="1057.8" r="4.6"/><circle cx="743.5" cy="1182.2" r="4.6"/><circle cx="723.9" cy="1184.2" r="4.6"/><circle cx="708.7" cy="1186.6" r="4.6"/><circle cx="696.2" cy="1198.4" r="4.6"/><circle cx="685.7" cy="1204.5" r="4.6"/><circle cx="676.6" cy="1230.5" r="4.6"/><circle cx="668.6" cy="1236.6" r="4.6"/><circle cx="661.4" cy="1248.7" r="4.6"/><circle cx="654.9" cy="1260.7" r="4.6"/><circle cx="649" cy="1262.6" r="4.6"/><circle cx="643.5" cy="1282.6" r="4.6"/><circle cx="638.5" cy="1298.9" r="4.6"/><circle cx="633.8" cy="1298.5" r="4.6"/><circle cx="629.4" cy="1298.5" r="4.6"/><circle cx="625.2" cy="1308.9" r="4.6"/><circle cx="621.3" cy="1314.8" r="4.6"/><circle cx="617.6" cy="1322.1" r="4.6"/><circle cx="614.1" cy="1329.1" r="4.6"/><circle cx="610.8" cy="1333.4" r="4.6"/><circle cx="607.6" cy="1332.7" r="4.6"/><circle cx="604.6" cy="1333.4" r="4.6"/><circle cx="601.7" cy="1335.5" r="4.6"/><circle cx="598.9" cy="1337.2" r="4.6"/><circle cx="596.2" cy="1338.5" r="4.6"/><circle cx="593.7" cy="1339.8" r="4.6"/><circle cx="591.2" cy="1341" r="4.6"/><circle cx="588.8" cy="1344" r="4.6"/><circle cx="586.5" cy="1349.9" r="4.6"/><circle cx="584.3" cy="1353.3" r="4.6"/><circle cx="582.1" cy="1356.8" r="4.6"/><circle cx="580" cy="1361.9" r="4.6"/><circle cx="578" cy="1367.5" r="4.6"/><circle cx="576" cy="1375.9" r="4.6"/><circle cx="574.1" cy="1381.1" r="4.6"/><circle cx="572.2" cy="1384.8" r="4.6"/><circle cx="570.4" cy="1388.6" r="4.6"/><circle cx="568.6" cy="1393.1" r="4.6"/><circle cx="566.9" cy="1397.4" r="4.6"/><circle cx="565.2" cy="1403.9" r="4.6"/><circle cx="563.5" cy="1412.6" r="4.6"/><circle cx="561.9" cy="1415.4" r="4.6"/><circle cx="560.4" cy="1418.2" r="4.6"/><circle cx="558.8" cy="1420.9" r="4.6"/><circle cx="557.3" cy="1424.4" r="4.6"/><circle cx="555.9" cy="1427.9" r="4.6"/><circle cx="554.4" cy="1430.1" r="4.6"/><circle cx="553" cy="1431.8" r="4.6"/><circle cx="551.7" cy="1433.5" r="4.6"/><circle cx="550.3" cy="1435.1" r="4.6"/><circle cx="549" cy="1437" r="4.6"/><circle cx="547.7" cy="1439.2" r="4.6"/><circle cx="546.4" cy="1441.3" r="4.6"/><circle cx="545.2" cy="1443.5" r="4.6"/><circle cx="543.9" cy="1446.4" r="4.6"/><circle cx="542.7" cy="1449.2" r="4.6"/><circle cx="541.5" cy="1452.8" r="4.6"/><circle cx="540.4" cy="1456.5" r="4.6"/><circle cx="539.2" cy="1460.8" r="4.6"/><circle cx="538.1" cy="1465.3" r="4.6"/><circle cx="537" cy="1467.5" r="4.6"/><circle cx="535.9" cy="1468.3" r="4.6"/><circle cx="534.8" cy="1469.1" r="4.6"/><circle cx="533.8" cy="1470" r="4.6"/><circle cx="532.7" cy="1470.8" r="4.6"/><circle cx="531.7" cy="1471.6" r="4.6"/><circle cx="530.7" cy="1472.4" r="4.6"/><circle cx="529.7" cy="1473.1" r="4.6"/><circle cx="528.7" cy="1473.9" r="4.6"/><circle cx="527.8" cy="1474.4" r="4.6"/><circle cx="526.8" cy="1474.8" r="4.6"/><circle cx="525.9" cy="1475.2" r="4.6"/><circle cx="524.9" cy="1475.6" r="4.6"/><circle cx="524" cy="1476" r="4.6"/><circle cx="523.1" cy="1476.4" r="4.6"/><circle cx="522.2" cy="1476.8" r="4.6"/><circle cx="521.3" cy="1477.2" r="4.6"/><circle cx="520.5" cy="1477.5" r="4.6"/><circle cx="519.6" cy="1477.9" r="4.6"/><circle cx="518.8" cy="1478.3" r="4.6"/><circle cx="517.9" cy="1478.6" r="4.6"/><circle cx="517.1" cy="1479" r="4.6"/><circle cx="516.3" cy="1479.3" r="4.6"/><circle cx="515.5" cy="1479.7" r="4.6"/><circle cx="514.7" cy="1480" r="4.6"/><circle cx="513.9" cy="1480.3" r="4.6"/><circle cx="513.1" cy="1480.7" r="4.6"/><circle cx="512.3" cy="1481" r="4.6"/><circle cx="511.6" cy="1481.3" r="4.6"/><circle cx="510.8" cy="1481.6" r="4.6"/><circle cx="510.1" cy="1482" r="4.6"/><circle cx="509.3" cy="1482.3" r="4.6"/><circle cx="508.6" cy="1482.6" r="4.6"/><circle cx="507.9" cy="1482.9" r="4.6"/><circle cx="507.2" cy="1483.2" r="4.6"/><circle cx="506.5" cy="1483.5" r="4.6"/><circle cx="505.8" cy="1483.8" r="4.6"/><circle cx="505.1" cy="1484" r="4.6"/><circle cx="504.4" cy="1484.3" r="4.6"/><circle cx="503.7" cy="1484.5" r="4.6"/><circle cx="503" cy="1484.7" r="4.6"/><circle cx="502.4" cy="1485" r="4.6"/><circle cx="501.7" cy="1485.2" r="4.6"/><circle cx="501.1" cy="1485.4" r="4.6"/><circle cx="500.4" cy="1485.7" r="4.6"/><circle cx="499.8" cy="1485.9" r="4.6"/><circle cx="499.2" cy="1486.1" r="4.6"/><circle cx="498.5" cy="1486.3" r="4.6"/><circle cx="497.9" cy="1486.5" r="4.6"/><circle cx="497.3" cy="1486.8" r="4.6"/><circle cx="496.7" cy="1487" r="4.6"/><circle cx="496.1" cy="1487.2" r="4.6"/><circle cx="495.5" cy="1487.4" r="4.6"/><circle cx="494.9" cy="1487.6" r="4.6"/><circle cx="494.3" cy="1487.8" r="4.6"/><circle cx="493.7" cy="1487.9" r="4.6"/><circle cx="493.1" cy="1488.1" r="4.6"/><circle cx="492.5" cy="1488.2" r="4.6"/><circle cx="492" cy="1488.3" r="4.6"/><circle cx="491.4" cy="1488.5" r="4.6"/><circle cx="490.8" cy="1488.6" r="4.6"/><circle cx="490.3" cy="1488.7" r="4.6"/><circle cx="489.7" cy="1488.8" r="4.6"/><circle cx="489.2" cy="1489" r="4.6"/><circle cx="488.6" cy="1489.1" r="4.6"/><circle cx="488.1" cy="1489.2" r="4.6"/><circle cx="487.6" cy="1489.3" r="4.6"/><circle cx="487" cy="1489.4" r="4.6"/><circle cx="486.5" cy="1489.6" r="4.6"/><circle cx="486" cy="1489.7" r="4.6"/><circle cx="485.5" cy="1489.8" r="4.6"/><circle cx="485" cy="1489.9" r="4.6"/><circle cx="484.4" cy="1490" r="4.6"/><circle cx="483.9" cy="1490.2" r="4.6"/><circle cx="483.4" cy="1490.3" r="4.6"/><circle cx="482.9" cy="1490.4" r="4.6"/><circle cx="482.4" cy="1490.5" r="4.6"/><circle cx="481.9" cy="1490.6" r="4.6"/><circle cx="481.5" cy="1490.7" r="4.6"/></g>
<line x1="190.1" y1="1537" x2="818.7" y2="1449.3" stroke="#000" stroke-width="3.0" stroke-dasharray="7.7 3.3"/>
<rect x="158.9" y="879.2" width="691.4" height="688.6" fill="none" stroke="#000" stroke-width="2.1"/>
<path d="M190.1 1567.8 v10.2 M347.2 1567.8 v10.2 M504.4 1567.8 v10.2 M661.6 1567.8 v10.2 M818.7 1567.8 v10.2 M158.9 1537 h-10.2 M158.9 1427.3 h-10.2 M158.9 1317.7 h-10.2 M158.9 1208 h-10.2 M158.9 1098.4 h-10.2 M158.9 988.8 h-10.2 M158.9 879.1 h-10.2" stroke="#000" stroke-width="2.1" fill="none"/>
<text class="tk" transform="translate(190.1 1618.5) scale(0.98 1)" text-anchor="middle">0</text>
<text class="tk" transform="translate(347.2 1618.5) scale(0.98 1)" text-anchor="middle">1</text>
<text class="tk" transform="translate(504.4 1618.5) scale(0.98 1)" text-anchor="middle">2</text>
<text class="tk" transform="translate(661.6 1618.5) scale(0.98 1)" text-anchor="middle">3</text>
<text class="tk" transform="translate(818.7 1618.5) scale(0.98 1)" text-anchor="middle">4</text>
<text class="tk" transform="translate(100.5 1548.6) scale(0.98 1)" text-anchor="middle">0</text>
<text class="tk" transform="translate(100.5 1439.4) scale(0.98 1)" text-anchor="middle">5</text>
<text class="tk" transform="translate(100.5 1330.1) scale(0.98 1)" text-anchor="middle">10</text>
<text class="tk" transform="translate(100.5 1220.9) scale(0.98 1)" text-anchor="middle">15</text>
<text class="tk" transform="translate(100.5 1111.7) scale(0.98 1)" text-anchor="middle">20</text>
<text class="tk" transform="translate(100.5 1002.4) scale(0.98 1)" text-anchor="middle">25</text>
<text class="tk" transform="translate(100.5 893.2) scale(0.98 1)" text-anchor="middle">30</text>
<circle cx="199.7" cy="928.3" r="21.6" fill="#1f77b4"/>
<circle cx="199.7" cy="988.1" r="21.6" fill="#ff7f0e"/>
<text class="lg" transform="translate(250.6 941.4) scale(0.984 1)">Sex-stratified</text>
<text class="lg" transform="translate(250.6 1001) scale(0.984 1)">Sex-adjusted</text>
<text class="pl" transform="translate(1.6 927) scale(0.955 1)">C)</text>
<text class="ax" transform="translate(336.4 1685) scale(0.951 1)">Expected <tspan class="it">-log</tspan><tspan class="sub" dy="9.2" dx="1.0">10</tspan><tspan class="it" dy="-9.2" dx="2.0">(P)</tspan></text>
<text class="ax" transform="translate(37 1379) rotate(-90) scale(0.951 1)">Observed <tspan class="it">-log</tspan><tspan class="sub" dy="9.2" dx="1.0">10</tspan><tspan class="it" dy="-9.2" dx="2.0">(P)</tspan></text>
</g>
<g>
<path d="M1386.2 1524.5 L1380 1525.5 L1300 1529.3 L1104 1536.2" fill="none" stroke="#1f77b4" stroke-width="10.0" stroke-linejoin="round" stroke-linecap="round"/>
<rect x="1099.8" y="1531.2" width="9.2" height="10.0" fill="#1f77b4"/>
<g fill="#1f77b4"><circle cx="1717.3" cy="901.4" r="4.6"/><circle cx="1670.9" cy="987.7" r="4.6"/><circle cx="1643.7" cy="1064" r="4.6"/><circle cx="1624.4" cy="1092" r="4.6"/><circle cx="1609.4" cy="1214.4" r="4.6"/><circle cx="1597.2" cy="1240.5" r="4.6"/><circle cx="1586.9" cy="1250.4" r="4.6"/><circle cx="1578" cy="1256.5" r="4.6"/><circle cx="1570.1" cy="1261" r="4.6"/><circle cx="1563" cy="1282.9" r="4.6"/><circle cx="1556.6" cy="1286.7" r="4.6"/><circle cx="1550.8" cy="1292.8" r="4.6"/><circle cx="1545.4" cy="1295.1" r="4.6"/><circle cx="1540.5" cy="1314.6" r="4.6"/><circle cx="1535.8" cy="1323" r="4.6"/><circle cx="1531.5" cy="1329.3" r="4.6"/><circle cx="1527.4" cy="1331.1" r="4.6"/><circle cx="1523.6" cy="1336" r="4.6"/><circle cx="1520" cy="1339.6" r="4.6"/><circle cx="1516.6" cy="1342" r="4.6"/><circle cx="1513.3" cy="1344.3" r="4.6"/><circle cx="1510.2" cy="1348.5" r="4.6"/><circle cx="1507.2" cy="1358.3" r="4.6"/><circle cx="1504.3" cy="1364" r="4.6"/><circle cx="1501.6" cy="1368.7" r="4.6"/><circle cx="1499" cy="1373.3" r="4.6"/><circle cx="1496.4" cy="1374" r="4.6"/><circle cx="1494" cy="1374.6" r="4.6"/><circle cx="1491.7" cy="1376.8" r="4.6"/><circle cx="1489.4" cy="1379.7" r="4.6"/><circle cx="1487.2" cy="1382.1" r="4.6"/><circle cx="1485.1" cy="1383.2" r="4.6"/><circle cx="1483" cy="1384.2" r="4.6"/><circle cx="1481" cy="1387.2" r="4.6"/><circle cx="1479.1" cy="1391.8" r="4.6"/><circle cx="1477.2" cy="1393.3" r="4.6"/><circle cx="1475.3" cy="1394.6" r="4.6"/><circle cx="1473.5" cy="1396" r="4.6"/><circle cx="1471.8" cy="1398.8" r="4.6"/><circle cx="1470.1" cy="1401.7" r="4.6"/><circle cx="1468.4" cy="1404.1" r="4.6"/><circle cx="1466.8" cy="1406.1" r="4.6"/><circle cx="1465.3" cy="1408.1" r="4.6"/><circle cx="1463.7" cy="1410" r="4.6"/><circle cx="1462.2" cy="1420.6" r="4.6"/><circle cx="1460.7" cy="1421.7" r="4.6"/><circle cx="1459.3" cy="1422.6" r="4.6"/><circle cx="1457.9" cy="1423.4" r="4.6"/><circle cx="1456.5" cy="1424.3" r="4.6"/><circle cx="1455.1" cy="1425.7" r="4.6"/><circle cx="1453.8" cy="1427" r="4.6"/><circle cx="1452.5" cy="1430.5" r="4.6"/><circle cx="1451.2" cy="1436.2" r="4.6"/><circle cx="1450" cy="1438.5" r="4.6"/><circle cx="1448.8" cy="1440.7" r="4.6"/><circle cx="1447.6" cy="1442.4" r="4.6"/><circle cx="1446.4" cy="1443.5" r="4.6"/><circle cx="1445.2" cy="1444.5" r="4.6"/><circle cx="1444.1" cy="1445.5" r="4.6"/><circle cx="1442.9" cy="1446.6" r="4.6"/><circle cx="1441.8" cy="1447.6" r="4.6"/><circle cx="1440.7" cy="1448.6" r="4.6"/><circle cx="1439.7" cy="1449.6" r="4.6"/><circle cx="1438.6" cy="1450.7" r="4.6"/><circle cx="1437.6" cy="1451.7" r="4.6"/><circle cx="1436.5" cy="1452.7" r="4.6"/><circle cx="1435.5" cy="1453.8" r="4.6"/><circle cx="1434.5" cy="1455.2" r="4.6"/><circle cx="1433.6" cy="1456.8" r="4.6"/><circle cx="1432.6" cy="1458.3" r="4.6"/><circle cx="1431.7" cy="1460.5" r="4.6"/><circle cx="1430.7" cy="1466.1" r="4.6"/><circle cx="1429.8" cy="1470.2" r="4.6"/><circle cx="1428.9" cy="1473.4" r="4.6"/><circle cx="1428" cy="1476.5" r="4.6"/><circle cx="1427.1" cy="1479.2" r="4.6"/><circle cx="1426.2" cy="1481.5" r="4.6"/><circle cx="1425.3" cy="1483.7" r="4.6"/><circle cx="1424.5" cy="1485.9" r="4.6"/><circle cx="1423.7" cy="1488.1" r="4.6"/><circle cx="1422.8" cy="1489.6" r="4.6"/><circle cx="1422" cy="1491.1" r="4.6"/><circle cx="1421.2" cy="1492.6" r="4.6"/><circle cx="1420.4" cy="1494.1" r="4.6"/><circle cx="1419.6" cy="1495.5" r="4.6"/><circle cx="1418.8" cy="1497" r="4.6"/><circle cx="1418" cy="1498.5" r="4.6"/><circle cx="1417.3" cy="1500.2" r="4.6"/><circle cx="1416.5" cy="1501.9" r="4.6"/><circle cx="1415.8" cy="1503.5" r="4.6"/><circle cx="1415" cy="1505.1" r="4.6"/><circle cx="1414.3" cy="1506.7" r="4.6"/><circle cx="1413.6" cy="1508.2" r="4.6"/><circle cx="1412.8" cy="1509.5" r="4.6"/><circle cx="1412.1" cy="1510.8" r="4.6"/><circle cx="1411.4" cy="1512.1" r="4.6"/><circle cx="1410.7" cy="1513.3" r="4.6"/><circle cx="1410.1" cy="1514.6" r="4.6"/><circle cx="1409.4" cy="1515.8" r="4.6"/><circle cx="1408.7" cy="1516.8" r="4.6"/><circle cx="1408" cy="1517.6" r="4.6"/><circle cx="1407.4" cy="1518.5" r="4.6"/><circle cx="1406.7" cy="1519.3" r="4.6"/><circle cx="1406.1" cy="1520.2" r="4.6"/><circle cx="1405.4" cy="1521" r="4.6"/><circle cx="1404.8" cy="1521.8" r="4.6"/><circle cx="1404.2" cy="1522.5" r="4.6"/><circle cx="1403.5" cy="1522.5" r="4.6"/><circle cx="1402.9" cy="1522.4" r="4.6"/><circle cx="1402.3" cy="1522.4" r="4.6"/><circle cx="1401.7" cy="1522.3" r="4.6"/><circle cx="1401.1" cy="1522.3" r="4.6"/><circle cx="1400.5" cy="1522.2" r="4.6"/><circle cx="1399.9" cy="1522.2" r="4.6"/><circle cx="1399.3" cy="1522.3" r="4.6"/><circle cx="1398.8" cy="1522.4" r="4.6"/><circle cx="1398.2" cy="1522.5" r="4.6"/><circle cx="1397.6" cy="1522.6" r="4.6"/><circle cx="1397" cy="1522.7" r="4.6"/><circle cx="1396.5" cy="1522.8" r="4.6"/><circle cx="1395.9" cy="1522.9" r="4.6"/><circle cx="1395.4" cy="1523" r="4.6"/><circle cx="1394.8" cy="1523.1" r="4.6"/><circle cx="1394.3" cy="1523.1" r="4.6"/><circle cx="1393.7" cy="1523.2" r="4.6"/><circle cx="1393.2" cy="1523.3" r="4.6"/><circle cx="1392.7" cy="1523.4" r="4.6"/><circle cx="1392.2" cy="1523.5" r="4.6"/><circle cx="1391.6" cy="1523.6" r="4.6"/><circle cx="1391.1" cy="1523.7" r="4.6"/><circle cx="1390.6" cy="1523.8" r="4.6"/><circle cx="1390.1" cy="1523.8" r="4.6"/><circle cx="1389.6" cy="1523.9" r="4.6"/><circle cx="1389.1" cy="1524" r="4.6"/><circle cx="1388.6" cy="1524.1" r="4.6"/><circle cx="1388.1" cy="1524.2" r="4.6"/><circle cx="1387.6" cy="1524.3" r="4.6"/><circle cx="1387.1" cy="1524.3" r="4.6"/><circle cx="1386.6" cy="1524.4" r="4.6"/><circle cx="1386.2" cy="1524.5" r="4.6"/></g>
<path d="M1386.2 1525.1 L1380 1525.9 L1300 1529.5 L1104 1536.2" fill="none" stroke="#ff7f0e" stroke-width="10.0" stroke-linejoin="round" stroke-linecap="round"/>
<rect x="1099.8" y="1531.2" width="9.2" height="10.0" fill="#ff7f0e"/>
<g fill="#ff7f0e"><circle cx="1717.3" cy="1268.8" r="4.6"/><circle cx="1670.9" cy="1287" r="4.6"/><circle cx="1643.7" cy="1306.9" r="4.6"/><circle cx="1624.4" cy="1315" r="4.6"/><circle cx="1609.4" cy="1343.4" r="4.6"/><circle cx="1597.2" cy="1351.1" r="4.6"/><circle cx="1586.9" cy="1356.7" r="4.6"/><circle cx="1578" cy="1364.9" r="4.6"/><circle cx="1570.1" cy="1367" r="4.6"/><circle cx="1563" cy="1373.1" r="4.6"/><circle cx="1556.6" cy="1391.5" r="4.6"/><circle cx="1550.8" cy="1391.1" r="4.6"/><circle cx="1545.4" cy="1389.6" r="4.6"/><circle cx="1540.5" cy="1394.4" r="4.6"/><circle cx="1535.8" cy="1397.3" r="4.6"/><circle cx="1531.5" cy="1401.1" r="4.6"/><circle cx="1527.4" cy="1402.7" r="4.6"/><circle cx="1523.6" cy="1403.2" r="4.6"/><circle cx="1520" cy="1403.6" r="4.6"/><circle cx="1516.6" cy="1406.8" r="4.6"/><circle cx="1513.3" cy="1411.3" r="4.6"/><circle cx="1510.2" cy="1414.1" r="4.6"/><circle cx="1507.2" cy="1416.6" r="4.6"/><circle cx="1504.3" cy="1417.3" r="4.6"/><circle cx="1501.6" cy="1418" r="4.6"/><circle cx="1499" cy="1418.6" r="4.6"/><circle cx="1496.4" cy="1419.2" r="4.6"/><circle cx="1494" cy="1419.3" r="4.6"/><circle cx="1491.7" cy="1419.3" r="4.6"/><circle cx="1489.4" cy="1419.9" r="4.6"/><circle cx="1487.2" cy="1421" r="4.6"/><circle cx="1485.1" cy="1422" r="4.6"/><circle cx="1483" cy="1423.1" r="4.6"/><circle cx="1481" cy="1424.1" r="4.6"/><circle cx="1479.1" cy="1425" r="4.6"/><circle cx="1477.2" cy="1426" r="4.6"/><circle cx="1475.3" cy="1426.9" r="4.6"/><circle cx="1473.5" cy="1427.8" r="4.6"/><circle cx="1471.8" cy="1429.7" r="4.6"/><circle cx="1470.1" cy="1431.6" r="4.6"/><circle cx="1468.4" cy="1433.5" r="4.6"/><circle cx="1466.8" cy="1435.5" r="4.6"/><circle cx="1465.3" cy="1437.6" r="4.6"/><circle cx="1463.7" cy="1439.7" r="4.6"/><circle cx="1462.2" cy="1442.6" r="4.6"/><circle cx="1460.7" cy="1445.6" r="4.6"/><circle cx="1459.3" cy="1448.5" r="4.6"/><circle cx="1457.9" cy="1452" r="4.6"/><circle cx="1456.5" cy="1455.4" r="4.6"/><circle cx="1455.1" cy="1457" r="4.6"/><circle cx="1453.8" cy="1458.5" r="4.6"/><circle cx="1452.5" cy="1460.1" r="4.6"/><circle cx="1451.2" cy="1460.6" r="4.6"/><circle cx="1450" cy="1460.9" r="4.6"/><circle cx="1448.8" cy="1461.2" r="4.6"/><circle cx="1447.6" cy="1461.5" r="4.6"/><circle cx="1446.4" cy="1462" r="4.6"/><circle cx="1445.2" cy="1463" r="4.6"/><circle cx="1444.1" cy="1464" r="4.6"/><circle cx="1442.9" cy="1465" r="4.6"/><circle cx="1441.8" cy="1465.9" r="4.6"/><circle cx="1440.7" cy="1466.8" r="4.6"/><circle cx="1439.7" cy="1467.5" r="4.6"/><circle cx="1438.6" cy="1468.2" r="4.6"/><circle cx="1437.6" cy="1468.8" r="4.6"/><circle cx="1436.5" cy="1469.5" r="4.6"/><circle cx="1435.5" cy="1470.1" r="4.6"/><circle cx="1434.5" cy="1471.4" r="4.6"/><circle cx="1433.6" cy="1472.9" r="4.6"/><circle cx="1432.6" cy="1474.3" r="4.6"/><circle cx="1431.7" cy="1475.7" r="4.6"/><circle cx="1430.7" cy="1477.5" r="4.6"/><circle cx="1429.8" cy="1479.8" r="4.6"/><circle cx="1428.9" cy="1482.1" r="4.6"/><circle cx="1428" cy="1484.4" r="4.6"/><circle cx="1427.1" cy="1486.6" r="4.6"/><circle cx="1426.2" cy="1488.8" r="4.6"/><circle cx="1425.3" cy="1490.9" r="4.6"/><circle cx="1424.5" cy="1493.1" r="4.6"/><circle cx="1423.7" cy="1495.2" r="4.6"/><circle cx="1422.8" cy="1497.3" r="4.6"/><circle cx="1422" cy="1499.3" r="4.6"/><circle cx="1421.2" cy="1501.3" r="4.6"/><circle cx="1420.4" cy="1503.4" r="4.6"/><circle cx="1419.6" cy="1505.1" r="4.6"/><circle cx="1418.8" cy="1506.1" r="4.6"/><circle cx="1418" cy="1507.2" r="4.6"/><circle cx="1417.3" cy="1508.2" r="4.6"/><circle cx="1416.5" cy="1509.2" r="4.6"/><circle cx="1415.8" cy="1510.2" r="4.6"/><circle cx="1415" cy="1511.4" r="4.6"/><circle cx="1414.3" cy="1512.6" r="4.6"/><circle cx="1413.6" cy="1513.8" r="4.6"/><circle cx="1412.8" cy="1515" r="4.6"/><circle cx="1412.1" cy="1516.2" r="4.6"/><circle cx="1411.4" cy="1517.3" r="4.6"/><circle cx="1410.7" cy="1518.1" r="4.6"/><circle cx="1410.1" cy="1518.8" r="4.6"/><circle cx="1409.4" cy="1519.5" r="4.6"/><circle cx="1408.7" cy="1520.2" r="4.6"/><circle cx="1408" cy="1520.8" r="4.6"/><circle cx="1407.4" cy="1521.5" r="4.6"/><circle cx="1406.7" cy="1521.9" r="4.6"/><circle cx="1406.1" cy="1522" r="4.6"/><circle cx="1405.4" cy="1522.1" r="4.6"/><circle cx="1404.8" cy="1522.3" r="4.6"/><circle cx="1404.2" cy="1522.4" r="4.6"/><circle cx="1403.5" cy="1522.5" r="4.6"/><circle cx="1402.9" cy="1522.6" r="4.6"/><circle cx="1402.3" cy="1522.7" r="4.6"/><circle cx="1401.7" cy="1522.9" r="4.6"/><circle cx="1401.1" cy="1523" r="4.6"/><circle cx="1400.5" cy="1523.1" r="4.6"/><circle cx="1399.9" cy="1523.2" r="4.6"/><circle cx="1399.3" cy="1523.3" r="4.6"/><circle cx="1398.8" cy="1523.4" r="4.6"/><circle cx="1398.2" cy="1523.4" r="4.6"/><circle cx="1397.6" cy="1523.5" r="4.6"/><circle cx="1397" cy="1523.6" r="4.6"/><circle cx="1396.5" cy="1523.7" r="4.6"/><circle cx="1395.9" cy="1523.8" r="4.6"/><circle cx="1395.4" cy="1523.8" r="4.6"/><circle cx="1394.8" cy="1523.9" r="4.6"/><circle cx="1394.3" cy="1524" r="4.6"/><circle cx="1393.7" cy="1524.1" r="4.6"/><circle cx="1393.2" cy="1524.1" r="4.6"/><circle cx="1392.7" cy="1524.2" r="4.6"/><circle cx="1392.2" cy="1524.3" r="4.6"/><circle cx="1391.6" cy="1524.3" r="4.6"/><circle cx="1391.1" cy="1524.4" r="4.6"/><circle cx="1390.6" cy="1524.5" r="4.6"/><circle cx="1390.1" cy="1524.5" r="4.6"/><circle cx="1389.6" cy="1524.6" r="4.6"/><circle cx="1389.1" cy="1524.7" r="4.6"/><circle cx="1388.6" cy="1524.8" r="4.6"/><circle cx="1388.1" cy="1524.8" r="4.6"/><circle cx="1387.6" cy="1524.9" r="4.6"/><circle cx="1387.1" cy="1525" r="4.6"/><circle cx="1386.6" cy="1525" r="4.6"/><circle cx="1386.2" cy="1525.1" r="4.6"/></g>
<line x1="1104" y1="1536.2" x2="1716" y2="1516.7" stroke="#000" stroke-width="3.0" stroke-dasharray="7.7 3.3"/>
<rect x="1073.7" y="867.9" width="673.2" height="700" fill="none" stroke="#000" stroke-width="2.1"/>
<path d="M1104 1567.9 v10.2 M1257 1567.9 v10.2 M1410 1567.9 v10.2 M1563 1567.9 v10.2 M1716 1567.9 v10.2 M1073.7 1536.2 h-10.2 M1073.7 1438.9 h-10.2 M1073.7 1341.6 h-10.2 M1073.7 1244.3 h-10.2 M1073.7 1147 h-10.2 M1073.7 1049.7 h-10.2 M1073.7 952.4 h-10.2" stroke="#000" stroke-width="2.1" fill="none"/>
<text class="tk" transform="translate(1104 1618.5) scale(0.98 1)" text-anchor="middle">0</text>
<text class="tk" transform="translate(1257 1618.5) scale(0.98 1)" text-anchor="middle">1</text>
<text class="tk" transform="translate(1410 1618.5) scale(0.98 1)" text-anchor="middle">2</text>
<text class="tk" transform="translate(1563 1618.5) scale(0.98 1)" text-anchor="middle">3</text>
<text class="tk" transform="translate(1716 1618.5) scale(0.98 1)" text-anchor="middle">4</text>
<text class="tk" transform="translate(1006.8 1548.5) scale(0.98 1)" text-anchor="middle">0</text>
<text class="tk" transform="translate(1006.8 1451.2) scale(0.98 1)" text-anchor="middle">20</text>
<text class="tk" transform="translate(1006.8 1353.9) scale(0.98 1)" text-anchor="middle">40</text>
<text class="tk" transform="translate(1006.8 1256.6) scale(0.98 1)" text-anchor="middle">60</text>
<text class="tk" transform="translate(1006.8 1159.3) scale(0.98 1)" text-anchor="middle">80</text>
<text class="tk" transform="translate(1006.8 1062) scale(0.98 1)" text-anchor="middle">100</text>
<text class="tk" transform="translate(1006.8 964.7) scale(0.98 1)" text-anchor="middle">120</text>
<circle cx="1114.1" cy="918.6" r="21.7" fill="#1f77b4"/>
<circle cx="1114.1" cy="978.6" r="21.7" fill="#ff7f0e"/>
<text class="lg" transform="translate(1165.1 931.4) scale(0.984 1)">Sex-stratified</text>
<text class="lg" transform="translate(1165.1 991.4) scale(0.984 1)">Sex-adjusted</text>
<text class="pl" transform="translate(901 927) scale(0.955 1)">D)</text>
<text class="ax" transform="translate(1242 1685) scale(0.951 1)">Expected <tspan class="it">-log</tspan><tspan class="sub" dy="9.2" dx="1.0">10</tspan><tspan class="it" dy="-9.2" dx="2.0">(P)</tspan></text>
<text class="ax" transform="translate(945.3 1415) rotate(-90) scale(0.951 1)">Observed <tspan class="it">-log</tspan><tspan class="sub" dy="9.2" dx="1.0">10</tspan><tspan class="it" dy="-9.2" dx="2.0">(P)</tspan></text>
</g>
</svg></body></html>
